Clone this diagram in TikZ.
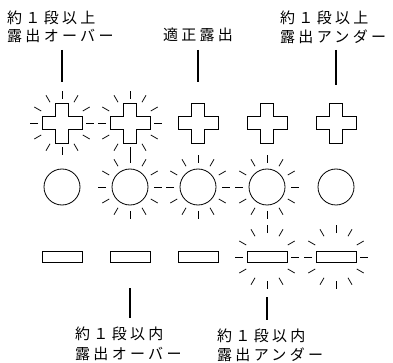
\documentclass[tikz,border=0pt]{standalone}
\usepackage{fontspec}
\newfontfamily\jpfont[LetterSpace=22]{Noto Sans CJK JP}
\usetikzlibrary{calc}
\tikzset{
  outline/.style={draw=black, line width=0.8pt},
  ray/.style={draw=black, line width=0.75pt},
  lead/.style={draw=black, line width=2.2pt},
  lbl/.style={inner sep=0pt, anchor=base west, font=\jpfont\fontsize{15}{18}\selectfont},
  plusshape/.pic={
    \draw[outline] (-6.5,-20) -- ++(13,0) -- ++(0,13.5) -- ++(13.5,0) -- ++(0,13)
      -- ++(-13.5,0) -- ++(0,13.5) -- ++(-13,0) -- ++(0,-13.5) -- ++(-13.5,0)
      -- ++(0,-13) -- ++(13.5,0) -- cycle;
  },
  rays/.pic={
    \foreach \a in {0,30,...,330} \draw[ray] (\a:24pt) -- (\a:32pt);
  },
  dot/.style={outline, circle, minimum size=36pt, inner sep=0pt},
  bar/.style={outline, rectangle, minimum width=40pt, minimum height=11pt, inner sep=0pt}
}
\begin{document}
\begin{tikzpicture}[x=1pt,y=-1pt]
\useasboundingbox (0,0) rectangle (393,363);
% columns
\def\xa{62}\def\xb{130}\def\xc{198}\def\xd{267}\def\xe{336}
% crosses
\foreach \x in {\xa,\xb,\xc,\xd,\xe} \pic at (\x,123) {plusshape};
\pic at (\xa,123) {rays};
\pic at (\xb,123) {rays};
% circles
\node[dot] (c1) at (\xa,187) {};
\node[dot] (c2) at (\xb,187) {};
\node[dot] (c3) at (\xc,187) {};
\node[dot] (c4) at (\xd,187) {};
\node[dot] (c5) at (\xe,187) {};
\pic at (c2) {rays};
\pic at (c3) {rays};
\pic at (c4) {rays};
% bars
\node[bar] (r1) at (\xa,257) {};
\node[bar] (r2) at (\xb,257) {};
\node[bar] (r3) at (\xc,257) {};
\node[bar] (r4) at (\xd,257) {};
\node[bar] (r5) at (\xe,257) {};
\pic at (r4) {rays};
\pic at (r5) {rays};
% labels
\node[lbl] (t1a) at (7,24) {約１段以上};
\node[lbl] (t1b) at (7,42) {露出オーバー};
\node[lbl, anchor=base] (t3) at (\xc,41) {適正露出};
\node[lbl] (t5a) at (280,24) {約１段以上};
\node[lbl] (t5b) at (280,43) {露出アンダー};
\node[lbl] (b2a) at (75,339) {約１段以内};
\node[lbl] (b2b) at (75,359) {露出オーバー};
\node[lbl] (b4a) at (217,341) {約１段以内};
\node[lbl] (b4b) at (217,360) {露出アンダー};
% leader lines
\coordinate (l1s) at (\xa,50); \coordinate (l1e) at (\xa,82);
\coordinate (l3s) at (\xc,50); \coordinate (l3e) at (\xc,82);
\coordinate (l5s) at (\xe,50); \coordinate (l5e) at (\xe,85);
\coordinate (l2s) at (\xb,288); \coordinate (l2e) at (\xb,318);
\coordinate (l4s) at (\xd,297); \coordinate (l4e) at (\xd,320);
\draw[lead] (l1s) -- (l1e);
\draw[lead] (l3s) -- (l3e);
\draw[lead] (l5s) -- (l5e);
\draw[lead] (l2s) -- (l2e);
\draw[lead] (l4s) -- (l4e);
\end{tikzpicture}
\end{document}
